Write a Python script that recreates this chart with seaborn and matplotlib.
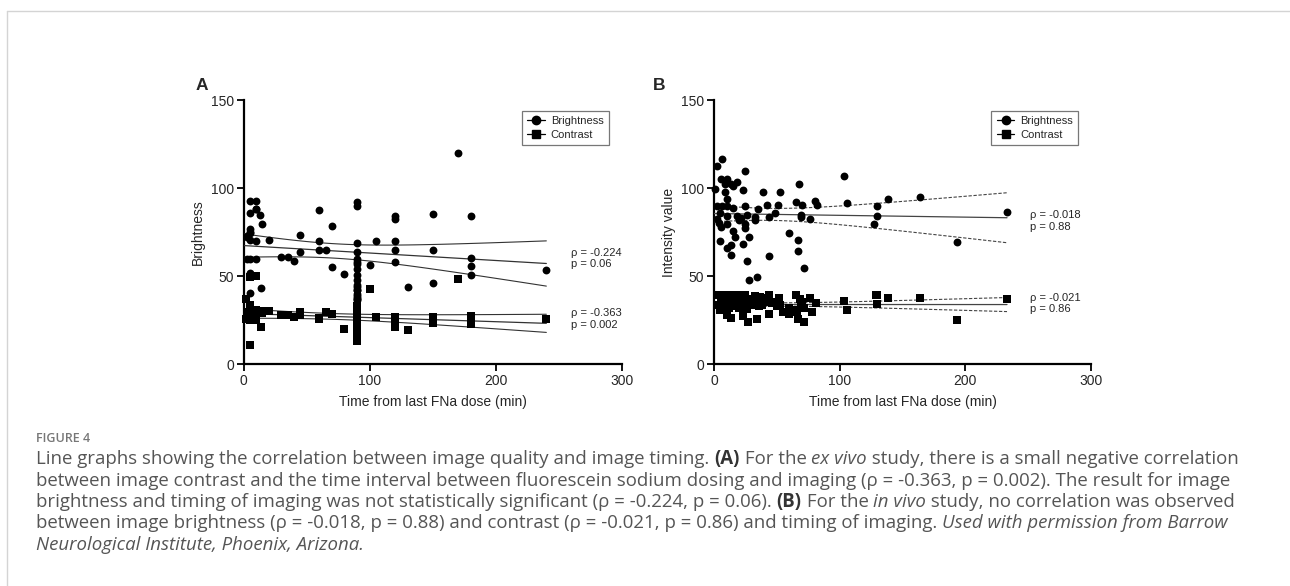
import numpy as np
import pandas as pd
import matplotlib
matplotlib.use("Agg")
import matplotlib.pyplot as plt
from matplotlib.lines import Line2D
import seaborn as sns

sns.set_style("ticks")
plt.rcParams["font.family"] = ["Liberation Sans", "DejaVu Sans"]

# --- DATA (stacked/overlapping marks estimated) ---
# Panel A: ex vivo (n = 70)
a_bright_x = [5, 10, 5, 10, 13, 15, 5, 5, 3, 5, 10, 20, 3, 10, 5, 5, 5, 14, 5, 3, 10, 5,
              45, 45, 30, 35, 40,
              60, 60, 60, 65, 70, 70, 80,
              90, 90, 90, 90, 90, 90, 90, 90, 90, 90, 90, 90, 90, 90, 90, 90, 90, 90, 90,
              100, 105, 120, 120, 120, 120, 120, 130, 150, 150, 150, 170,
              180, 180, 180, 180, 240]
a_bright_y = [93, 92.6, 86, 88.4, 84.6, 80, 77, 74.4, 72.5, 70.7, 70, 70.7, 59.7, 59.7, 52, 50, 40.4, 43.3, 75, 73, 88, 60,
              73.5, 63.9, 61, 60.8, 59,
              87.5, 70, 65.2, 65.2, 78.8, 55.4, 51.6,
              92.4, 90, 69, 63.7, 60, 57, 54, 51, 48, 45, 42, 39, 36.7, 58, 38, 40, 42, 37, 44,
              56.5, 70, 84, 82.6, 70.3, 64.8, 58.4, 43.8, 85.6, 64.8, 46, 120,
              84, 60.3, 56, 50.6, 53.7]
a_contrast_x = [5, 10, 5, 14, 2, 5, 5, 5, 10, 10, 13, 15, 20,
                5, 5, 3, 10, 13, 5, 2, 10, 15,
                30, 35, 40, 45, 45, 60, 65, 70, 80, 60, 60, 70,
                90, 90, 90, 90, 90, 90, 90, 90, 90, 90, 90,
                90, 90, 90, 90, 90, 90, 90, 90,
                100, 105, 120, 120, 120, 120, 120, 130, 150, 150, 150, 170, 180, 180, 180, 180, 240]
a_contrast_y = [49.5, 50, 11.3, 21.3, 37, 34, 29, 25, 25, 29, 30.6, 30.6, 30.6,
                28, 27, 30, 27, 29, 31, 26, 31, 29,
                28, 28, 27, 29.7, 28, 26, 29.7, 28.7, 20, 26.5, 26, 28.5,
                33, 31, 29, 27, 25, 23, 21, 19, 17, 15, 13.5,
                32, 30, 28, 26, 24, 22, 20, 18,
                43, 26.8, 26.8, 21, 26.5, 27, 22, 19.3, 27.2, 23.8, 27, 48.6, 27.8, 23, 27.5, 23.5, 25.9]

# Panel B: in vivo (n = 72)
b_bright_x = [6.1, 2.7, 24.5, 0.5, 5.3, 10.6, 9, 13.3, 18, 15.4, 22.9, 9, 10.6, 38.8, 52.4, 68, 103.5,
              2.7, 6.4, 10.6, 14.9, 24.5, 35, 42, 51.3, 65.4, 70.2, 80.3, 82, 105.9, 130, 138.6, 164, 233.2,
              4.8, 10.6, 18, 21.3, 26.6, 32.7, 32.7, 43.9, 48.7, 68.9, 68.9, 76.6, 2.1, 4.3, 130, 127.7,
              4.8, 13.3, 10.6, 13.3, 17, 23.4, 24.5, 27.9, 26.6, 28.2, 34, 43.9, 59.6, 67, 67, 71.5, 193.4,
              10.6, 5.3, 20, 15, 25]
b_bright_y = [116.5, 112.5, 109.9, 99.7, 105, 105, 102.3, 102.3, 103.8, 101.2, 99.3, 97.8, 94, 97.8, 97.8, 102.7, 107.2,
              89.8, 89.8, 89.8, 89, 89.8, 88.3, 90.4, 90.4, 92.3, 90.6, 92.9, 90.6, 91.7, 89.7, 94, 95, 86.4,
              85.7, 84.2, 84.2, 83.4, 84.7, 83.8, 81.9, 83.8, 86, 85.1, 83.8, 82.7, 82.7, 80.4, 84.2, 79.6,
              70.2, 67.9, 66, 62.2, 72.4, 68.3, 77.4, 72.3, 58.8, 48.2, 49.4, 61.5, 74.9, 70.4, 64.5, 54.7, 69.8,
              80, 78, 82, 76, 80]
b_contrast_x = [3.2, 5.9, 8, 10.6, 13.8, 17, 19.7, 22.9, 25, 28.2, 32.4, 36.7, 41, 44.1, 47.3, 51.6, 52.7,
                65.4, 68.6, 70.2, 76.6, 81.4, 103.5, 105.9, 128.7, 130, 130, 138.6, 164, 233.2, 193.4,
                4.8, 10.6, 13.3, 22.9, 27.1, 34.6, 43.9, 59.6, 66.5, 71.5,
                3.7, 9, 18, 15.4, 26.6, 31.4, 42, 70.2,
                2, 7, 12, 16, 20, 24, 27, 30, 34, 38, 40, 46, 50, 55, 60, 64, 66, 69, 72, 78, 12, 20, 36]
b_contrast_y = [39.5, 35.7, 39.5, 36.5, 39.5, 37.6, 39.5, 36.9, 39.5, 36.9, 38.8, 38.4, 37.6, 39.2, 35.7, 37.6, 33.5,
                39.2, 36.9, 32.3, 37.6, 35, 36.1, 30.8, 39.2, 39.2, 34.6, 37.6, 37.6, 37.1, 25.5,
                31.2, 28.2, 26.3, 27.4, 24.4, 25.9, 28.6, 28.9, 25.9, 24.4,
                33.5, 32.7, 33.1, 34.2, 31.6, 35.4, 35.4, 35.4,
                34, 35, 35, 36, 34, 35, 36, 34, 36, 34, 36, 35, 33, 30, 32, 31, 30, 33, 32, 30, 32, 32, 33]

a_stats = [("ρ = -0.224", "p = 0.06"), ("ρ = -0.363", "p = 0.002")]
b_stats = [("ρ = -0.018", "p = 0.88"), ("ρ = -0.021", "p = 0.86")]


def fit_band(x, y, x_end):
    # least-squares line with 95% confidence band of the fit
    x = np.asarray(x, float)
    y = np.asarray(y, float)
    n = len(x)
    slope, icept = np.polyfit(x, y, 1)
    resid = y - (icept + slope * x)
    s = np.sqrt(np.sum(resid ** 2) / (n - 2))
    sxx = np.sum((x - x.mean()) ** 2)
    xs = np.linspace(0, x_end, 100)
    fit = icept + slope * xs
    half = 1.995 * s * np.sqrt(1.0 / n + (xs - x.mean()) ** 2 / sxx)
    return xs, fit, fit - half, fit + half


def draw_panel(ax, bx, by, cx, cy, ylabel, band_ls, line_col):
    df_b = pd.DataFrame({"x": bx, "y": by})
    df_c = pd.DataFrame({"x": cx, "y": cy})
    for df in (df_b, df_c):
        xs, fit, lo, hi = fit_band(df["x"], df["y"], df["x"].max())
        ax.plot(xs, fit, color=line_col, lw=0.9, zorder=3)
        ax.plot(xs, lo, color=line_col, lw=0.8, ls=band_ls, zorder=3)
        ax.plot(xs, hi, color=line_col, lw=0.8, ls=band_ls, zorder=3)
    sns.scatterplot(data=df_b, x="x", y="y", ax=ax, marker="o", s=32, color="black",
                    edgecolor="black", linewidth=0, clip_on=False, zorder=4)
    sns.scatterplot(data=df_c, x="x", y="y", ax=ax, marker="s", s=28, color="black",
                    edgecolor="black", linewidth=0, clip_on=False, zorder=4)
    ax.set_xlim(0, 300)
    ax.set_ylim(0, 150)
    ax.set_xticks([0, 100, 200, 300])
    ax.set_yticks([0, 50, 100, 150])
    ax.set_xlabel("Time from last FNa dose (min)", fontsize=10, labelpad=5)
    ax.set_ylabel(ylabel, fontsize=10, labelpad=4)
    ax.tick_params(labelsize=10, width=1.3, length=5, color="black", pad=2)
    for side in ("left", "bottom"):
        ax.spines[side].set_linewidth(1.6)
        ax.spines[side].set_color("black")
    sns.despine(ax=ax)
    handles = [Line2D([0], [0], color="black", lw=0.9, marker="o", markersize=6, label="Brightness"),
               Line2D([0], [0], color="black", lw=0.9, marker="s", markersize=6, label="Contrast")]
    leg = ax.legend(handles=handles, loc="upper left", bbox_to_anchor=(0.735, 0.96),
                    borderaxespad=0, fontsize=8, frameon=True, fancybox=False,
                    handlelength=1.6, handletextpad=0.5, labelspacing=0.3, borderpad=0.5)
    leg.get_frame().set_edgecolor("#555555")
    leg.get_frame().set_linewidth(0.9)


fig = plt.figure(figsize=(12.9, 5.86), dpi=100)
ax_a = fig.add_axes([0.1888, 0.378, 0.2934, 0.451])
ax_b = fig.add_axes([0.5535, 0.378, 0.2922, 0.451])

draw_panel(ax_a, a_bright_x, a_bright_y, a_contrast_x, a_contrast_y, "Brightness", "-", "#333333")
draw_panel(ax_b, b_bright_x, b_bright_y, b_contrast_x, b_contrast_y, "Intensity value", (0, (3, 1.5)), "#444444")

# stats annotations
for ax, stats, xpos, ys in ((ax_a, a_stats, 259.6, [63.4, 57.0, 29.3, 22.6]),
                            (ax_b, b_stats, 251.4, [85.0, 78.2, 37.8, 31.4])):
    for i, (rho, pv) in enumerate(stats):
        ax.text(xpos, ys[2 * i], rho, fontsize=8, va="center", ha="left", clip_on=False)
        ax.text(xpos, ys[2 * i + 1], pv, fontsize=8, va="center", ha="left", clip_on=False)

fig.text(201.7 / 1290, 1 - 86 / 586, "A", fontsize=12.5, fontweight="bold", ha="center", va="center")
fig.text(659 / 1290, 1 - 85 / 586, "B", fontsize=12.5, fontweight="bold", ha="center", va="center")

# page frame lines
fig.add_artist(Line2D([7 / 1290, 1], [1 - 11 / 586, 1 - 11 / 586], color="#d4d4d4", lw=1))
fig.add_artist(Line2D([7 / 1290, 7 / 1290], [0, 1 - 11 / 586], color="#d4d4d4", lw=1))

# caption
fig.text(36 / 1290, 1 - 438 / 586, "FIGURE 4", fontsize=9, color="#777777", fontweight="semibold",
         family="Open Sans", va="center", ha="left")

caption_lines = [
    [("Line graphs showing the correlation between image quality and image timing. ", "normal", "normal"),
     ("(A)", "bold", "normal"), (" For the ", "normal", "normal"), ("ex vivo", "normal", "italic"),
     (" study, there is a small negative correlation", "normal", "normal")],
    [("between image contrast and the time interval between fluorescein sodium dosing and imaging "
      "(ρ = -0.363, p = 0.002). The result for image", "normal", "normal")],
    [("brightness and timing of imaging was not statistically significant (ρ = -0.224, p = 0.06). ", "normal", "normal"),
     ("(B)", "bold", "normal"), (" For the ", "normal", "normal"), ("in vivo", "normal", "italic"),
     (" study, no correlation was observed", "normal", "normal")],
    [("between image brightness (ρ = -0.018, p = 0.88) and contrast (ρ = -0.021, p = 0.86) and timing of imaging. ",
      "normal", "normal"), ("Used with permission from Barrow", "normal", "italic")],
    [("Neurological Institute, Phoenix, Arizona.", "normal", "italic")],
]
renderer = fig.canvas.get_renderer()
y0 = 459
for i, runs in enumerate(caption_lines):
    x = 36
    y = y0 + i * 21.5
    for txt, weight, style in runs:
        t = fig.text(x / 1290, 1 - y / 586, txt, fontsize=13.45, color="#555555" if weight == "normal" else "#333333",
                     fontweight=weight, fontstyle=style, family=["Open Sans", "DejaVu Sans"],
                     va="center", ha="left")
        x += t.get_window_extent(renderer).width

fig.savefig("out.png", dpi=100)
